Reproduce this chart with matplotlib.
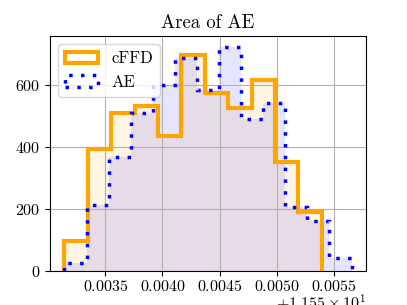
import matplotlib
matplotlib.use("Agg")
import matplotlib.pyplot as plt
import numpy as np

plt.rcParams["font.family"] = "serif"
plt.rcParams["font.serif"] = ["cmr10", "DejaVu Serif"]
plt.rcParams["mathtext.fontset"] = "cm"
plt.rcParams["axes.formatter.use_mathtext"] = True
plt.rcParams["axes.unicode_minus"] = False

# bin edges (values are offset by 11.55) and counts
cffd_edges = [0.003143, 0.003348, 0.003552, 0.003757, 0.003961, 0.004166,
              0.004370, 0.004575, 0.004779, 0.004984, 0.005188, 0.005393]
cffd_counts = [98, 394, 510, 534, 436, 698, 574, 526, 616, 352, 190]

ae_edges = [0.003143, 0.003336, 0.003529, 0.003722, 0.003915, 0.004108,
            0.004301, 0.004494, 0.004687, 0.004880, 0.005073, 0.005266,
            0.005459, 0.005652]
ae_counts = [25, 215, 370, 512, 600, 687, 585, 723, 491, 542, 206, 163, 43]

offset = 11.55
cffd_edges = np.array(cffd_edges) + offset
ae_edges = np.array(ae_edges) + offset
cffd_mid = (cffd_edges[:-1] + cffd_edges[1:]) / 2
ae_mid = (ae_edges[:-1] + ae_edges[1:]) / 2

fig = plt.figure(figsize=(4.07, 3.05), dpi=100)
ax = fig.add_axes([0.123, 0.111, 0.776, 0.771])

ax.hist(cffd_mid, bins=cffd_edges, weights=cffd_counts, color="orange", alpha=0.1)
ax.hist(ae_mid, bins=ae_edges, weights=ae_counts, color="blue", alpha=0.1)
ax.hist(cffd_mid, bins=cffd_edges, weights=cffd_counts, histtype="step",
        color="orange", lw=3, label="cFFD")
ax.hist(ae_mid, bins=ae_edges, weights=ae_counts, histtype="step",
        color="blue", lw=2.5, linestyle=(0, (1, 2.4)), label="AE")

ax.set_ylim(0, 759)
ax.set_yticks([0, 200, 400, 600])
ax.set_xticks(np.array([0.0035, 0.0040, 0.0045, 0.0050, 0.0055]) + offset)
ax.grid(True, color="#b0b0b0", lw=0.8)
ax.tick_params(labelsize=11.5)
ax.tick_params(axis="x", pad=2.5)
ax.xaxis.OFFSETTEXTPAD = -1.5
ax.xaxis.get_offset_text().set_fontsize(11.5)
ax.set_title("Area of AE", fontsize=13.5)
ax.legend(loc="upper left", fontsize=12)

fig.savefig("out.png", dpi=100)
